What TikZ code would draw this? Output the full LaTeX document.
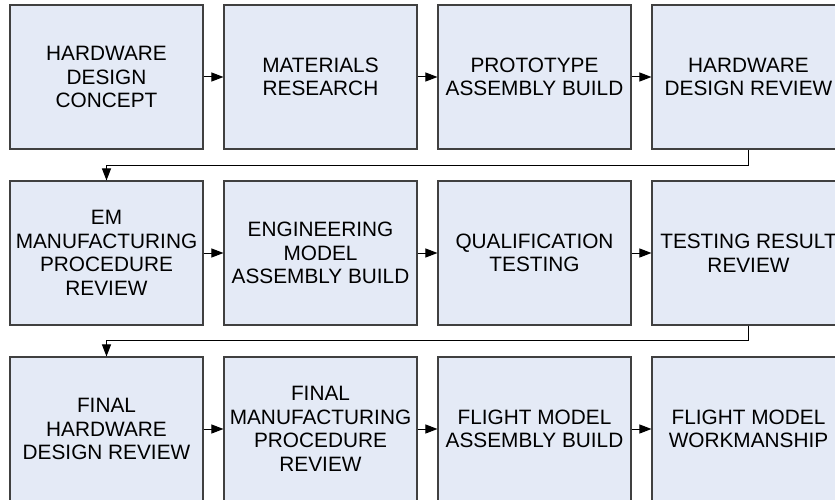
\documentclass[tikz,border=0pt]{standalone}
\usepackage{fontspec}
\setmainfont{Liberation Sans}
\usepackage{tikz}
\usetikzlibrary{arrows.meta,positioning}

\definecolor{boxfill}{RGB}{228,234,246}
\definecolor{boxline}{RGB}{64,64,64}

\begin{document}
\begin{tikzpicture}[x=1pt, y=1pt, on grid,
                    node distance=176pt and 214pt,
                    >={Triangle[length=12pt,width=9pt]},
                    stage/.style={draw=boxline, line width=1.1pt, fill=boxfill,
                                  minimum width=193pt, minimum height=144pt,
                                  inner sep=0pt, align=center,
                                  font=\fontsize{20.8}{23.5}\selectfont}]
   %\draw[help lines] (0,0) grid (835,-500);
   \useasboundingbox (0,0) rectangle (835,-500);

   % first row
   \node[stage] (hw_concept) at (106.5,-77) {HARDWARE\\DESIGN\\CONCEPT};
   \node[stage] (materials) [right=of hw_concept] {MATERIALS\\RESEARCH};
   \node[stage] (prototype) [right=of materials] {PROTOTYPE\\ASSEMBLY BUILD};
   \node[stage] (hw_review) [right=of prototype] {HARDWARE\\DESIGN REVIEW};

   % second row
   \node[stage] (em_review) [below=of hw_concept] {EM\\MANUFACTURING\\PROCEDURE\\REVIEW};
   \node[stage] (em_build) [right=of em_review] {ENGINEERING\\MODEL\\ASSEMBLY BUILD};
   \node[stage] (qual_test) [right=of em_build] {QUALIFICATION\\TESTING};
   \node[stage] (test_review) [right=of qual_test] {TESTING RESULT\\REVIEW};

   % third row
   \node[stage] (final_hw) [below=of em_review] {FINAL\\HARDWARE\\DESIGN REVIEW};
   \node[stage] (final_mfg) [right=of final_hw] {FINAL\\MANUFACTURING\\PROCEDURE\\REVIEW};
   \node[stage] (fm_build) [right=of final_mfg] {FLIGHT MODEL\\ASSEMBLY BUILD};
   \node[stage] (fm_work) [right=of fm_build] {FLIGHT MODEL\\WORKMANSHIP};

   % transitions
   \path[->, line width=1pt]
    (hw_concept) edge (materials)
    (materials) edge (prototype)
    (prototype) edge (hw_review)
    (em_review) edge (em_build)
    (em_build) edge (qual_test)
    (qual_test) edge (test_review)
    (final_hw) edge (final_mfg)
    (final_mfg) edge (fm_build)
    (fm_build) edge (fm_work);

   \draw[->, line width=1pt] (hw_review.south) -- ++(0,-16) -| (em_review.north);
   \draw[->, line width=1pt] (test_review.south) -- ++(0,-14.5) -| (final_hw.north);
\end{tikzpicture}
\end{document}
